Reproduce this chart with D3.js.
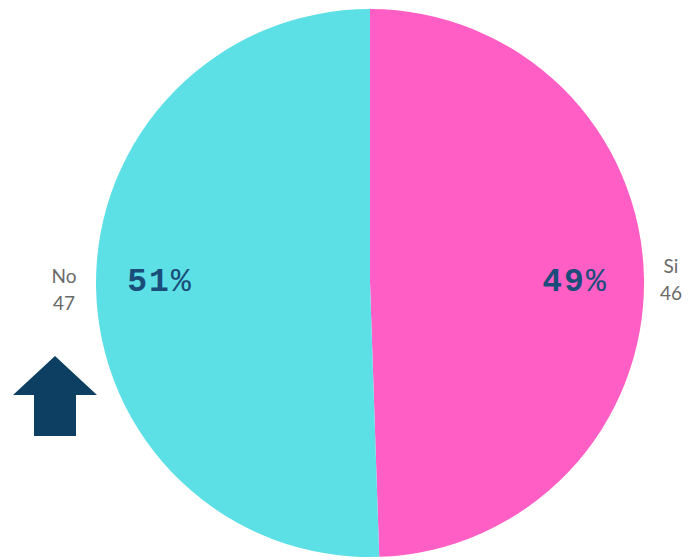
<!DOCTYPE html>
<html><head><meta charset="utf-8">
<script src="https://cdn.jsdelivr.net/npm/d3@7"></script>
<style>body{margin:0;background:#fff}</style>
</head><body>
<svg id="c" width="689" height="560"></svg>
<script>
const categories = ["Si", "No"];
const values = [46, 47];
const percentLabels = ["49", "51"];
const colors = ["#ff5ec4", "#5ce0e6"];

const svg = d3.select("#c");
const cx = 370, cy = 283, r = 274;
const g = svg.append("g").attr("transform", `translate(${cx},${cy})`);
const pie = d3.pie().sort(null).value(d => d.v);
const data = categories.map((c, i) => ({c, v: values[i], p: percentLabels[i], col: colors[i]}));
const arcs = pie(data);
const arc = d3.arc().innerRadius(0).outerRadius(r);
g.selectAll("path").data(arcs).enter().append("path")
  .attr("d", arc).attr("fill", d => d.data.col);

const isRight = d => (d.startAngle + d.endAngle) / 2 < Math.PI;

// percent labels inside
const pct = g.selectAll("text.pct").data(arcs).enter().append("text")
  .attr("class","pct")
  .attr("x", d => isRight(d) ? 205 : -210)
  .attr("y", 8)
  .attr("text-anchor", "middle")
  .style("font-family", "Liberation Mono, Courier New, monospace")
  .style("font-size", "33px")
  .style("letter-spacing", "2px")
  .attr("fill", "#1a4d7a");
pct.append("tspan").style("font-weight", "bold").text(d => d.data.p);
pct.append("tspan").style("font-weight", "normal").text("%");

// outside labels
const outer = g.selectAll("g.lab").data(arcs).enter().append("g").attr("class","lab")
  .attr("transform", d => isRight(d) ? "translate(301,-10)" : "translate(-306,0)");
outer.append("text").attr("y", 0).attr("text-anchor","middle")
  .style("font-family","Lato, sans-serif").style("font-size","19px").attr("fill","#6a6a6a")
  .text(d => d.data.c);
outer.append("text").attr("y", 27).attr("text-anchor","middle")
  .style("font-family","Lato, sans-serif").style("font-size","19px").attr("fill","#6a6a6a")
  .text(d => d.data.v);

// arrow
svg.append("path")
  .attr("d", "M55,356 L97,395 L76,395 L76,436 L34,436 L34,395 L13,395 Z")
  .attr("fill", "#0d3f63");
</script>
</body></html>
